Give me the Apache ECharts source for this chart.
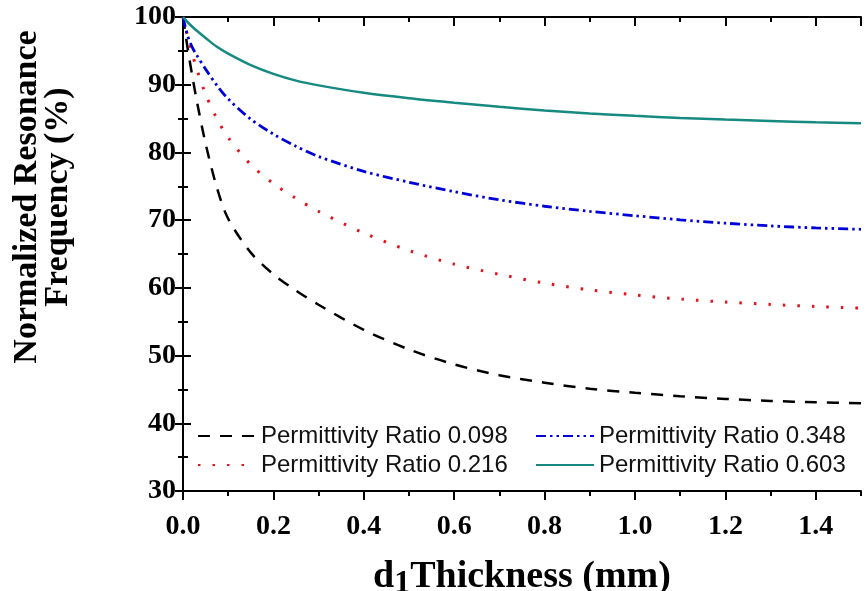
<!DOCTYPE html>
<html>
<head>
<meta charset="utf-8">
<script src="https://cdn.jsdelivr.net/npm/echarts@6/dist/echarts.min.js"></script>
<style>html,body{margin:0;padding:0;background:#fff}#c{width:868px;height:591px}</style>
</head>
<body>
<div id="c"></div>
<script>
var thickness = [0, 0.01, 0.02, 0.03, 0.05, 0.075, 0.1, 0.15, 0.2, 0.25, 0.3, 0.4, 0.5, 0.6, 0.7, 0.8, 0.9, 1.0, 1.1, 1.2, 1.3, 1.4, 1.5];
var ratio098 = [100, 95.5, 91.5, 87.8, 81.3, 74.8, 70.2, 65.2, 62.0, 59.6, 57.5, 53.8, 50.9, 48.7, 47.1, 46.0, 45.1, 44.5, 44.0, 43.6, 43.3, 43.1, 42.95];
var ratio216 = [100, 97.2, 94.7, 92.4, 88.6, 85.0, 82.2, 78.2, 75.4, 73.2, 71.3, 68.1, 65.5, 63.5, 62.0, 60.7, 59.7, 58.95, 58.35, 57.9, 57.55, 57.25, 57.0];
var ratio348 = [100, 97.3, 95.6, 94.4, 92.3, 89.9, 87.9, 84.9, 82.7, 80.9, 79.4, 77.2, 75.6, 74.2, 73.0, 72.05, 71.3, 70.65, 70.05, 69.55, 69.15, 68.85, 68.65];
var ratio603 = [100, 99.25, 98.6, 98.0, 96.9, 95.6, 94.6, 92.9, 91.6, 90.6, 89.9, 88.8, 88.0, 87.35, 86.75, 86.2, 85.75, 85.4, 85.1, 84.85, 84.65, 84.45, 84.3];
var seriesNames = ['Permittivity Ratio 0.098', 'Permittivity Ratio 0.216', 'Permittivity Ratio 0.348', 'Permittivity Ratio 0.603'];
var yTicks = [30, 40, 50, 60, 70, 80, 90, 100];
var xTickLabels = ['0.0', '0.2', '0.4', '0.6', '0.8', '1.0', '1.2', '1.4'];

function pairs(ys) { return thickness.map(function (x, i) { return [x, ys[i]]; }); }

var chart = echarts.init(document.getElementById('c'), null, { renderer: 'canvas' });
var serif = 'Liberation Serif';
var sans = 'Liberation Sans';
var axisLine = { show: true, lineStyle: { color: '#000', width: 2 } };

function xAx(pos, interval, len, inside, labels, showLine) {
  return {
    type: 'value', position: pos, min: 0, max: 1.5, interval: interval,
    axisLine: showLine ? axisLine : { show: false },
    axisTick: { show: true, inside: inside, length: len, lineStyle: { color: '#000', width: 2 } },
    splitLine: { show: false },
    axisLabel: labels ? {
      show: true, margin: 22, color: '#000', fontFamily: serif, fontWeight: 'bold', fontSize: 28,
      showMaxLabel: false,
      formatter: function (v) { var s = v.toFixed(1); return xTickLabels.indexOf(s) >= 0 ? s : ''; }
    } : { show: false },
    name: labels ? '{d|d}{s|1}{t|Thickness (mm)}' : '',
    nameLocation: 'middle', nameGap: 63,
    nameTextStyle: {
      rich: {
        d: { fontFamily: serif, fontWeight: 'bold', fontSize: 38, color: '#000' },
        s: { fontFamily: serif, fontWeight: 'bold', fontSize: 32, color: '#000', padding: [14, 0, 0, 0] },
        t: { fontFamily: serif, fontWeight: 'bold', fontSize: 38, color: '#000' }
      }
    }
  };
}

function yAx(pos, labels) {
  return {
    type: 'value', position: pos, min: 30, max: 100, interval: 10,
    axisLine: axisLine,
    axisTick: { show: true, inside: true, length: 8, lineStyle: { color: '#000', width: 2 } },
    minorTick: { show: true, splitNumber: 2, length: 5, lineStyle: { color: '#000', width: 2 } },
    splitLine: { show: false },
    axisLabel: labels ? { show: true, inside: false, margin: 7, color: '#000', fontFamily: serif, fontWeight: 'bold', fontSize: 28 } : { show: false }
  };
}

function line(i, data, color, dash, width) {
  return {
    name: seriesNames[i], type: 'line', data: pairs(data), symbol: 'none', showSymbol: false,
    smooth: 0.3, xAxisIndex: 0, yAxisIndex: 0,
    lineStyle: { color: color, width: width, type: dash, cap: 'butt' },
    itemStyle: { color: color }
  };
}

var legendText = { fontFamily: sans, fontSize: 24, color: '#111' };
var hideSym = { color: 'transparent', borderColor: 'transparent', borderWidth: 0, opacity: 0 };

chart.setOption({
  animation: false,
  backgroundColor: '#fff',
  grid: { left: 183, right: 7, top: 17, bottom: 100, containLabel: false, outerBoundsMode: 'none' },
  xAxis: [
    xAx('bottom', 0.2, 9, false, true, true),
    xAx('bottom', 0.1, 5, false, false, false),
    xAx('top', 0.2, 9, true, false, true),
    xAx('top', 0.1, 5, true, false, false)
  ],
  yAxis: [yAx('left', true), yAx('right', false)],
  legend: [
    { orient: 'vertical', left: 192, top: 419, itemWidth: 58, itemHeight: 24, itemGap: 5,
      data: [seriesNames[0], seriesNames[1]], textStyle: legendText, itemStyle: hideSym },
    { orient: 'vertical', left: 530, top: 419, itemWidth: 58, itemHeight: 24, itemGap: 5,
      data: [seriesNames[2], seriesNames[3]], textStyle: legendText, itemStyle: hideSym }
  ],
  graphic: [{
    type: 'text', x: 43, y: 197, rotation: Math.PI / 2,
    style: {
      text: 'Normalized Resonance\nFrequency (%)', fill: '#000',
      font: 'bold 34px "Liberation Serif"', align: 'center', verticalAlign: 'middle', lineHeight: 31
    }
  }],
  series: [
    line(0, ratio098, '#000000', [12, 10], 2.5),
    line(1, ratio216, '#e3121b', [2.5, 12], 3),
    line(2, ratio348, '#0000d8', [10, 4, 2.5, 4, 2.5, 4], 2.8),
    line(3, ratio603, '#168a80', 'solid', 2.5)
  ]
});
</script>
</body>
</html>
